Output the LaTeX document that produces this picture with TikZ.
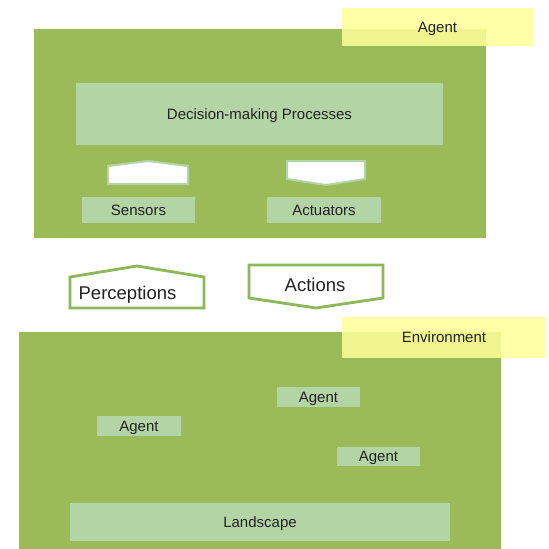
\documentclass[tikz,border=0pt]{standalone}
\usepackage{fontspec}
\setmainfont{Liberation Sans}
\definecolor{bggreen}{HTML}{9BBB59}
\definecolor{lightbox}{HTML}{B3D4A5}
\definecolor{yel}{HTML}{FFFF99}
\definecolor{txt}{HTML}{222222}
\definecolor{outl}{HTML}{8DB85A}
\begin{document}
\begin{tikzpicture}[x=1pt,y=-1pt,
  panel/.style={fill=bggreen, draw=none, inner sep=0pt},
  inbox/.style={fill=lightbox, draw=none, inner sep=0pt, text=txt, text depth=0pt, font=\fontsize{15}{18}\selectfont},
  tag/.style={fill=yel, fill opacity=0.85, text opacity=1, draw=none, inner sep=0pt, text=txt, text depth=0pt, font=\fontsize{15}{18}\selectfont},
  bigarrow/.style={draw=outl, line width=2.8pt, fill=white, line join=miter},
  smallarrow/.style={draw=lightbox, line width=2pt, fill=white, line join=miter},
  bigtext/.style={text=txt, font=\fontsize{18.5}{22}\selectfont, inner sep=0pt, text depth=0pt}]
\useasboundingbox (0,0) rectangle (549,549);
\fill[white] (0,0) rectangle (549,549);
% Agent panel
\node[panel, minimum width=452pt, minimum height=209pt] (agentpanel) at (260,133.5) {};
\node[tag, minimum width=191pt, minimum height=38pt] (agenttag) at (437.5,27) {Agent};
\node[inbox, minimum width=367pt, minimum height=62pt] (dec) at (259.5,114) {Decision-making Processes};
\draw[smallarrow] (108,166) -- (148,161) -- (188,166) -- (188,184) -- (108,184) -- cycle;
\draw[smallarrow] (287,161) -- (365,161) -- (365,179) -- (326,185) -- (287,179) -- cycle;
\node[inbox, minimum width=113pt, minimum height=26pt] (sensors) at (138.5,210) {Sensors};
\node[inbox, minimum width=114pt, minimum height=26pt] (actuators) at (324,210) {Actuators};
% Perceptions and Actions
\draw[bigarrow] (70,277) -- (137,266) -- (204,277) -- (204,308) -- (70,308) -- cycle;
\node[bigtext] (perc) at (127.5,292.5) {Perceptions};
\draw[bigarrow] (249,265) -- (383,265) -- (383,298) -- (316,308) -- (249,298) -- cycle;
\node[bigtext] (actions) at (315,284.5) {Actions};
% Environment panel
\node[panel, minimum width=482pt, minimum height=217pt] (envpanel) at (260,440.5) {};
\node[tag, minimum width=204pt, minimum height=41pt] (envtag) at (444,337.5) {Environment};
\node[inbox, minimum width=83pt, minimum height=20pt] (agent1) at (318.5,397) {Agent};
\node[inbox, minimum width=84pt, minimum height=20pt] (agent2) at (139,426) {Agent};
\node[inbox, minimum width=83pt, minimum height=19pt] (agent3) at (378.5,456.5) {Agent};
\node[inbox, minimum width=380pt, minimum height=38pt] (landscape) at (260,522) {Landscape};
\end{tikzpicture}
\end{document}
